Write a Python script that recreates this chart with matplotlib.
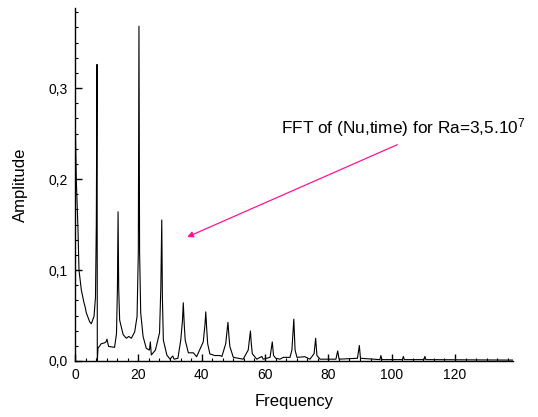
import matplotlib
matplotlib.use("Agg")
import matplotlib.pyplot as plt
from matplotlib.ticker import MultipleLocator, FuncFormatter

plt.rcParams["font.family"] = ["Liberation Sans", "DejaVu Sans"]
plt.rcParams["mathtext.fontset"] = "custom"
plt.rcParams["mathtext.rm"] = "Liberation Sans"
plt.rcParams["mathtext.it"] = "Liberation Sans"

# spectrum (frequency, amplitude)
freq = [
    0.0, 0.1, 0.41, 0.95, 1.26, 2.0, 2.84, 3.16, 3.57, 4.64, 5.15, 6.0, 6.47, 6.73, 6.95,
    7.05, 7.26, 8.3, 9.38, 9.8, 10.1, 10.6, 12.5, 13.1, 13.4, 13.6, 13.8, 14.1,
    15.2, 16.2, 16.96, 17.8, 18.85, 19.6, 20.0, 20.2, 20.4, 20.75, 21.5, 22.5,
    23.5, 23.8, 24.1, 25.4, 26.7, 27.1, 27.4, 27.6, 27.9, 29.0, 30.0, 30.85, 31.3,
    32.5, 33.4, 33.95, 34.2, 34.5, 34.8, 35.8, 37.4, 38.4, 40.5, 41.05, 41.3, 41.6,
    41.9, 42.6, 44.2, 45.8, 46.4, 47.6, 48.3, 48.6, 48.9, 50.0, 53.1, 54.7, 55.4,
    55.7, 56.0, 57.4, 59.0, 59.4, 61.6, 62.3, 62.7, 63.4, 64.7, 65.8, 67.9, 68.5,
    69.1, 69.5, 70.1, 72.6, 74.2, 75.5, 76.0, 76.4, 77.4, 82.4, 82.95, 83.4,
    89.2, 89.8, 90.15, 96.3, 96.6, 96.9, 103.4, 103.7, 104.0, 110.2, 110.5, 110.8,
    138.3,
]
amp = [
    0.40, 0.26, 0.199, 0.144, 0.10, 0.078, 0.064, 0.060, 0.053, 0.043, 0.041, 0.049, 0.07, 0.15, 0.326,
    0.0, 0.014, 0.019, 0.020, 0.021, 0.024, 0.016, 0.015, 0.03, 0.08, 0.164, 0.08, 0.045,
    0.029, 0.025, 0.027, 0.025, 0.032, 0.049, 0.12, 0.368, 0.12, 0.053, 0.027, 0.014,
    0.012, 0.021, 0.0066, 0.012, 0.031, 0.08, 0.155, 0.07, 0.023, 0.0066, 0.002, 0.0055, 0.002,
    0.003, 0.023, 0.045, 0.064, 0.04, 0.023, 0.009, 0.009, 0.0047, 0.021, 0.04, 0.054, 0.035,
    0.019, 0.0077, 0.006, 0.006, 0.005, 0.019, 0.0425, 0.028, 0.016, 0.004, 0.002, 0.012, 0.033,
    0.018, 0.008, 0.002, 0.005, 0.002, 0.004, 0.021, 0.006, 0.003, 0.002, 0.004, 0.004, 0.012,
    0.046, 0.012, 0.004, 0.0047, 0.002, 0.008, 0.025, 0.006, 0.002, 0.002, 0.011, 0.002,
    0.003, 0.017, 0.003, 0.0015, 0.006, 0.0015, 0.0015, 0.005, 0.0015, 0.0015, 0.005, 0.0015,
    0.001,
]

fig = plt.figure(figsize=(5.38, 4.17), dpi=100)
ax = fig.add_axes([0.1394, 0.1343, 0.814, 0.8465])

ax.plot(freq, amp, color="black", linewidth=0.8)

ax.set_xlim(0, 138.3)
ax.set_ylim(0, 0.388)
ax.spines["top"].set_visible(False)
ax.spines["right"].set_visible(False)
for s in ("left", "bottom"):
    ax.spines[s].set_linewidth(1.0)

ax.xaxis.set_major_locator(MultipleLocator(20))
ax.xaxis.set_minor_locator(MultipleLocator(20 / 6))
ax.yaxis.set_major_locator(MultipleLocator(0.1))
ax.yaxis.set_minor_locator(MultipleLocator(0.1 / 6))
ax.yaxis.set_major_formatter(FuncFormatter(lambda v, p: f"{v:.1f}".replace(".", ",")))
ax.tick_params(which="major", direction="in", length=4.8, width=1.0, labelsize=10, pad=5)
ax.tick_params(which="minor", direction="in", length=2.4, width=0.8)

ax.set_xlabel("Frequency", fontsize=12, labelpad=9)
ax.set_ylabel("Amplitude", fontsize=12, labelpad=15)

ax.annotate(
    "",
    xy=(34.6, 0.135), xycoords="data",
    xytext=(102.6, 0.239), textcoords="data",
    arrowprops=dict(arrowstyle="-|>", color="#ff1493", lw=0.9, mutation_scale=9),
)
ax.text(65.0, 0.257, r"FFT of (Nu,time) for Ra=3,5.10$^{7}$", fontsize=12.4, ha="left", va="center")

fig.savefig("out.png", dpi=100)
